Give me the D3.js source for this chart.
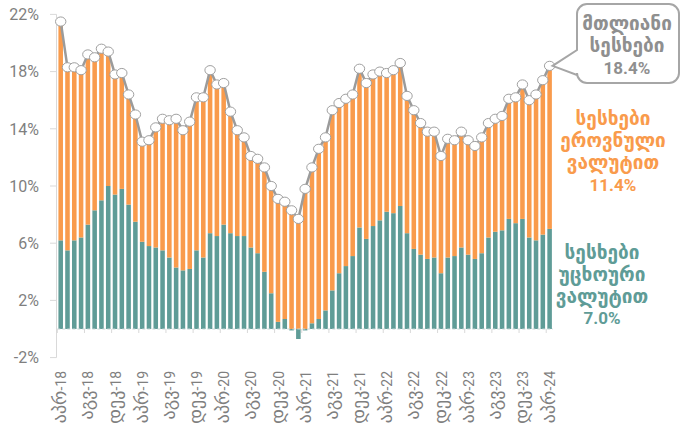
<!DOCTYPE html>
<html>
<head>
<meta charset="utf-8">
<script src="https://cdn.jsdelivr.net/npm/d3@7"></script>
<style>
  body { margin: 0; background: #fff; }
  text { font-family: Roboto, "DejaVu Sans", sans-serif; }
</style>
</head>
<body>
<div id="chart"></div>
<script>
const width = 681;
const height = 432;

const colorForeign = '#5f9c97';
const colorNational = '#f99b4c';
const colorTotal = '#9b9b9b';
const colorAxisText = '#7f7f7f';

// months Apr-2018 .. Apr-2024
const monthNames = ['იან', 'თებ', 'მარ', 'აპრ', 'მაი', 'ივნ', 'ივლ', 'აგვ', 'სექ', 'ოქტ', 'ნოე', 'დეკ'];
const categories = [];
for (let k = 0; k < 73; k++) {
  const m = (3 + k) % 12;
  const y = 18 + Math.floor((3 + k) / 12);
  categories.push(monthNames[m] + '-' + y);
}

const total = [21.5, 18.3, 18.3, 18.1, 19.2, 19.0, 19.6, 19.4, 17.8, 17.9, 16.4, 15.0, 13.1, 13.2, 14.1, 14.7,
  14.6, 14.7, 13.9, 14.5, 16.2, 16.2, 18.1, 17.1, 17.2, 15.2, 13.9, 13.4, 12.1, 11.9, 11.3, 10.0,
  9.1, 8.9, 8.3, 7.7, 9.8, 11.3, 12.6, 13.4, 15.3, 15.8, 16.1, 16.4, 18.2, 17.2, 17.8, 18.0,
  17.9, 18.1, 18.6, 16.3, 15.3, 14.4, 13.8, 13.8, 12.1, 13.3, 13.2, 13.8, 13.2, 12.8, 13.4, 14.4,
  14.7, 14.9, 16.1, 16.2, 17.1, 16.0, 16.4, 17.4, 18.4];

const foreign = [6.2, 5.5, 6.2, 6.4, 7.3, 8.3, 9.0, 10.0, 9.4, 9.8, 8.7, 7.5, 6.1, 5.8, 5.7, 5.5,
  5.0, 4.3, 4.1, 4.2, 5.5, 5.0, 6.7, 6.5, 7.3, 6.7, 6.5, 6.5, 5.7, 5.3, 4.0, 2.5,
  0.5, 0.7, -0.1, -0.7, -0.1, 0.4, 0.7, 1.3, 2.7, 3.9, 4.4, 5.1, 7.1, 6.3, 7.2, 7.6,
  8.2, 8.1, 8.6, 6.7, 5.6, 5.2, 4.9, 5.0, 3.9, 5.0, 5.1, 5.7, 5.2, 4.9, 5.3, 6.4,
  6.8, 6.9, 7.7, 7.4, 7.7, 6.4, 6.2, 6.6, 7.0];

const national = [15.3, 12.8, 12.1, 11.7, 11.9, 10.7, 10.6, 9.4, 8.4, 8.1, 7.7, 7.5, 7.0, 7.4, 8.4, 9.2,
  9.6, 10.4, 9.8, 10.3, 10.7, 11.2, 11.4, 10.6, 9.9, 8.5, 7.4, 6.9, 6.4, 6.6, 7.3, 7.5,
  8.6, 8.2, 8.3, 7.7, 9.8, 10.9, 11.9, 12.1, 12.6, 11.9, 11.7, 11.3, 11.1, 10.9, 10.6, 10.4,
  9.7, 10.0, 10.0, 9.6, 9.7, 9.2, 8.9, 8.8, 8.2, 8.3, 8.1, 8.1, 8.0, 7.9, 8.1, 8.0,
  7.9, 8.0, 8.4, 8.8, 9.4, 9.6, 10.2, 10.8, 11.4];

const yTicks = [-2, 2, 6, 10, 14, 18, 22];

const calloutLines = ['მთლიანი', 'სესხები', '18.4%'];
const nationalLines = ['სესხები', 'ეროვნული', 'ვალუტით', '11.4%'];
const foreignLines = ['სესხები', 'უცხოური', 'ვალუტით', '7.0%'];

const rows = categories.map((c, i) => ({ cat: c, foreign: foreign[i], national: national[i], total: total[i] }));

const svg = d3.select('#chart')
  .append('svg')
  .attr('width', width)
  .attr('height', height);

const x = d3.scaleBand()
  .domain(categories)
  .range([57.3, 553])
  .paddingInner(0.33)
  .paddingOuter(0.165);

const y = d3.scaleLinear()
  .domain([-2, 22])
  .range([357.6, 14.4]);

// y axis line + ticks
svg.append('line')
  .attr('x1', 56.5).attr('x2', 56.5)
  .attr('y1', y(22)).attr('y2', y(-2))
  .attr('stroke', '#d9d9d9').attr('stroke-width', 1);

const yAxis = svg.append('g').attr('class', 'y-axis');
yAxis.selectAll('line')
  .data(yTicks)
  .enter().append('line')
  .attr('x1', 50).attr('x2', 56.5)
  .attr('y1', d => y(d)).attr('y2', d => y(d))
  .attr('stroke', '#d9d9d9');
yAxis.selectAll('text')
  .data(yTicks)
  .enter().append('text')
  .attr('x', 39)
  .attr('y', d => y(d))
  .attr('dy', '0.36em')
  .attr('text-anchor', 'end')
  .style('font-size', '16px')
  .attr('fill', colorAxisText)
  .text(d => d + '%');

// stacked bars
const stack = d3.stack()
  .keys(['foreign', 'national'])
  .offset(d3.stackOffsetDiverging);
const series = stack(rows);
const colors = { foreign: colorForeign, national: colorNational };

svg.append('g')
  .selectAll('g')
  .data(series)
  .enter().append('g')
  .attr('fill', d => colors[d.key])
  .selectAll('rect')
  .data(d => d)
  .enter().append('rect')
  .attr('x', d => x(d.data.cat))
  .attr('width', x.bandwidth())
  .attr('y', d => y(Math.max(d[0], d[1])))
  .attr('height', d => Math.abs(y(d[0]) - y(d[1])));

// x axis at zero
svg.append('line')
  .attr('x1', 57.3).attr('x2', 553)
  .attr('y1', y(0)).attr('y2', y(0))
  .attr('stroke', '#c9d6d6')
  .attr('stroke-dasharray', '3,2');

const step = x.step();
const tickIdx = d3.range(0, categories.length, 4);
svg.append('g')
  .selectAll('line')
  .data(tickIdx)
  .enter().append('line')
  .attr('x1', i => 57.3 + i * step).attr('x2', i => 57.3 + i * step)
  .attr('y1', y(0)).attr('y2', y(0) + 4)
  .attr('stroke', '#d9d9d9');

const xLabels = svg.append('g')
  .selectAll('text')
  .data(tickIdx)
  .enter().append('text')
  .attr('transform', i => 'translate(' + (x(categories[i]) + x.bandwidth() / 2) + ',371) rotate(-90)')
  .attr('dy', '0.35em')
  .attr('text-anchor', 'end')
  .attr('fill', colorAxisText);
xLabels.append('tspan')
  .style('font-size', '18px')
  .text(i => categories[i].split('-')[0]);
xLabels.append('tspan')
  .style('font-size', '14px')
  .text(i => '-' + categories[i].split('-')[1]);

// total line + markers
const cx = d => x(d.cat) + x.bandwidth() / 2;
const line = d3.line().x(cx).y(d => y(d.total));
svg.append('path')
  .datum(rows)
  .attr('d', line)
  .attr('fill', 'none')
  .attr('stroke', colorTotal)
  .attr('stroke-width', 2.5);

svg.append('g')
  .selectAll('ellipse')
  .data(rows)
  .enter().append('ellipse')
  .attr('cx', cx)
  .attr('cy', d => y(d.total))
  .attr('rx', 5.2)
  .attr('ry', 4.6)
  .attr('fill', '#fff')
  .attr('stroke', '#a0a0a0')
  .attr('stroke-width', 1);

// callout
const last = rows[rows.length - 1];
const tipX = cx(last) + 3, tipY = y(last.total);
const bx0 = 577, bx1 = 679, by0 = 4, by1 = 83, r = 10;
const callout = d3.path();
callout.moveTo(bx0 + r, by0);
callout.lineTo(bx1 - r, by0);
callout.arcTo(bx1, by0, bx1, by0 + r, r);
callout.lineTo(bx1, by1 - r);
callout.arcTo(bx1, by1, bx1 - r, by1, r);
callout.lineTo(bx0 + r, by1);
callout.arcTo(bx0, by1, bx0, by1 - r, r);
callout.lineTo(bx0, 75);
callout.lineTo(tipX, tipY);
callout.lineTo(bx0, 50);
callout.lineTo(bx0, by0 + r);
callout.arcTo(bx0, by0, bx0 + r, by0, r);
callout.closePath();
svg.append('path')
  .attr('d', callout.toString())
  .attr('fill', '#fff')
  .attr('stroke', '#a6a6a6')
  .attr('stroke-width', 2);

function block(lines, cxText, yStart, lh, color) {
  svg.append('g')
    .selectAll('text')
    .data(lines)
    .enter().append('text')
    .attr('x', cxText)
    .attr('y', (d, i) => yStart + i * lh)
    .attr('text-anchor', 'middle')
    .attr('dy', '0.36em')
    .style('font-size', d => /%/.test(d) ? '17px' : '19px')
    .style('font-weight', 'bold')
    .attr('fill', color)
    .text(d => d);
}

block(calloutLines, 627, 23, 22.5, '#8f8f8f');
block(nationalLines, 613, 118, 22.3, colorNational);
block(foreignLines, 602, 252, 22, colorForeign);
</script>
</body>
</html>
